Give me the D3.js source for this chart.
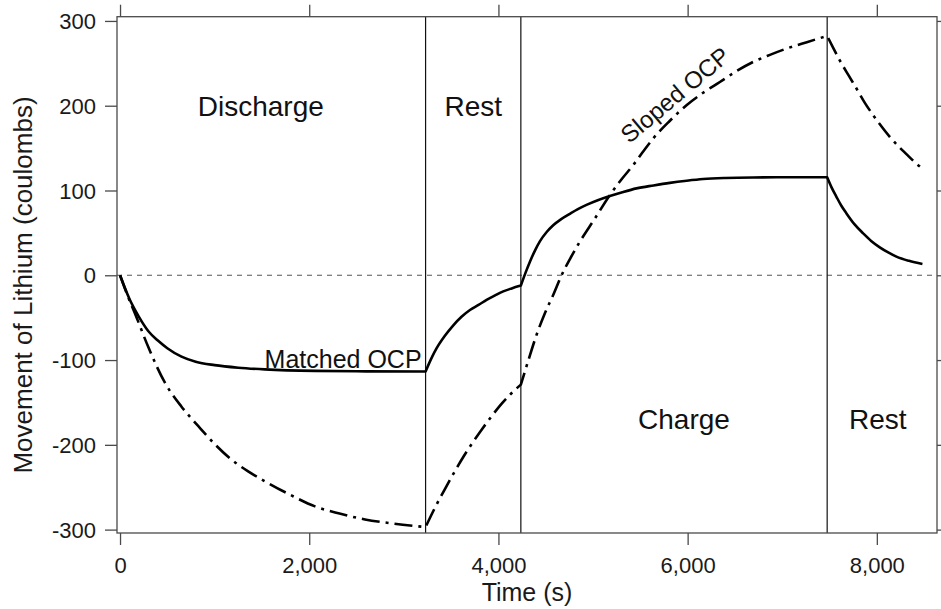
<!DOCTYPE html>
<html>
<head>
<meta charset="utf-8">
<script src="https://cdn.jsdelivr.net/npm/d3@7"></script>
<style>
  html, body { margin: 0; padding: 0; background: #fff; }
  svg { display: block; font-family: "Liberation Sans", Arial, sans-serif; }
</style>
</head>
<body>
<svg id="chart" width="941" height="609"></svg>
<script>
// ---------- data ----------
const xTicks = [0, 2000, 4000, 6000, 8000];
const yTicks = [-300, -200, -100, 0, 100, 200, 300];
const phaseBoundaries = [0, 3230, 4237, 7475, 8482];
const phaseLabels = ["Discharge", "Rest", "Charge", "Rest"];
const phaseLabelValues = [200, 200, -170, -170];

const matchedTime = [0,100,200,300,400,500,650,800,1000,1250,1530,2060,2600,3230,
  3300,3347,3430,3523,3610,3699,3790,3875,3960,4051,4140,4237,
  4290,4333,4390,4438,4510,4579,4660,4755,4840,4931,5050,5178,5310,5460,5640,5812,5990,6164,6400,6692,7100,7475,
  7520,7573,7625,7679,7765,7855,7940,8031,8120,8207,8340,8482];
const matchedValue = [0,-28,-49,-66,-77,-86,-96,-102,-106,-109,-111,-112.8,-113.3,-113.5,
  -96,-86,-72,-59,-49,-41,-35,-29,-24,-19,-15.5,-12.2,
  4,16,30,40,51,59,66,72.5,78,83,88.5,93.5,98,102.5,106,109,111.5,113.5,114.8,115.4,115.6,115.6,
  104,92.6,82,73,60,49.5,40.5,33,27,22,17,13.3];

const slopedTime = [0,80,158,300,476,650,828,1000,1180,1350,1532,1800,2061,2320,2589,2900,3230,
  3330,3430,3530,3630,3730,3830,3930,4030,4130,4237,
  4320,4403,4490,4579,4667,4760,4861,5020,5178,5300,5425,5530,5636,5810,5988,6160,6341,6520,6692,6870,7045,7260,7475,
  7540,7608,7700,7785,7870,7961,8050,8137,8225,8313,8400,8480];
const slopedValue = [0,-24,-45,-85,-127,-155,-178,-199,-217.6,-231,-243,-259,-272.6,-281,-288,-293,-297,
  -274,-253,-233,-214,-197,-181,-166,-152,-140,-129,
  -99,-70.3,-45,-23.2,0,20,39.6,67,94.6,113,130,146,161.4,182,200.6,215,228,241,251.6,260,267.4,275,282.3,
  268,253.6,236,220.3,204,188.9,175.5,163.3,152.5,142.9,133.5,126];

const seriesNames = ["Matched OCP", "Sloped OCP"];

// ---------- scales ----------
const svg = d3.select("#chart");
const x = d3.scaleLinear().domain([-32, 8636]).range([117, 937]);
const y = d3.scaleLinear().domain([-304, 305]).range([533, 16.7]);
const axisColor = "#4a4a4a";

// zero reference line
svg.append("line")
  .attr("x1", x.range()[0]).attr("x2", x.range()[1])
  .attr("y1", y(0)).attr("y2", y(0))
  .attr("stroke", "#555").attr("stroke-width", 1.1)
  .attr("stroke-dasharray", "5,5");

// phase boundary lines
svg.selectAll("line.phase")
  .data(phaseBoundaries.slice(1, -1))
  .enter().append("line")
  .attr("class", "phase")
  .attr("x1", d => x(d)).attr("x2", d => x(d))
  .attr("y1", y.range()[1]).attr("y2", y.range()[0])
  .attr("stroke", "#111").attr("stroke-width", 1.2);

// ---------- axes ----------
const fmt = d3.format(",");
const gB = svg.append("g").attr("transform", `translate(0,${y.range()[0]})`)
  .call(d3.axisBottom(x).tickValues(xTicks).tickSize(12).tickFormat(fmt));
gB.selectAll("text").attr("y", 32).attr("dy", "0.35em");

const gT = svg.append("g").attr("transform", `translate(0,${y.range()[1]})`)
  .call(d3.axisTop(x).tickValues(xTicks).tickSize(12).tickFormat(""));

const gL = svg.append("g").attr("transform", `translate(${x.range()[0]},0)`)
  .call(d3.axisLeft(y).tickValues(yTicks).tickSize(12).tickFormat(d => String(d)));
gL.selectAll("text").attr("x", -21).attr("dy", "0.35em");

const gR = svg.append("g").attr("transform", `translate(${x.range()[1]},0)`)
  .call(d3.axisRight(y).tickValues(yTicks).tickSize(5).tickFormat(""));

[gB, gT, gL, gR].forEach(g => {
  g.select(".domain").remove();
  g.selectAll(".tick line").attr("stroke", axisColor).attr("stroke-width", 1.3);
  g.selectAll("text").attr("fill", "#1a1a1a")
    .style("font-family", "'Liberation Sans', Arial, sans-serif").style("font-size", "22px");
});

// frame
svg.append("rect")
  .attr("x", x.range()[0]).attr("y", y.range()[1])
  .attr("width", x.range()[1] - x.range()[0])
  .attr("height", y.range()[0] - y.range()[1])
  .attr("fill", "none").attr("stroke", axisColor).attr("stroke-width", 1.3);

// axis titles
svg.append("text")
  .attr("x", 527).attr("y", 592).attr("dy", "0.35em")
  .attr("text-anchor", "middle").attr("font-size", 25).attr("fill", "#1a1a1a")
  .text("Time (s)");
svg.append("text")
  .attr("transform", "translate(23,285) rotate(-90)")
  .attr("dy", "0.35em")
  .attr("text-anchor", "middle").attr("font-size", 26).attr("fill", "#1a1a1a")
  .text("Movement of Lithium (coulombs)");

// ---------- series ----------
const line = d3.line().x(d => x(d[0])).y(d => y(d[1])).curve(d3.curveMonotoneX);

function drawSeries(times, values, dash) {
  const pts = times.map((t, i) => [t, values[i]]);
  const segs = [];
  for (let p = 0; p < phaseBoundaries.length - 1; p++) {
    const a = phaseBoundaries[p], b = phaseBoundaries[p + 1];
    segs.push(pts.filter(d => d[0] >= a && d[0] <= b));
  }
  const d = segs.map((s, i) => {
    const str = line(s);
    return i === 0 ? str : str.replace(/^M/, "L");
  }).join("");
  svg.append("path")
    .attr("d", d)
    .attr("fill", "none")
    .attr("stroke", "#000")
    .attr("stroke-width", 2.6)
    .attr("stroke-linejoin", "round")
    .attr("stroke-dasharray", dash);
}
drawSeries(matchedTime, matchedValue, null);
drawSeries(slopedTime, slopedValue, "18,6,3,6");

// ---------- labels ----------
const labelShift = [-12, 0, 10, 3];
phaseLabels.forEach((lab, i) => {
  const mid = (phaseBoundaries[i] + phaseBoundaries[i + 1]) / 2;
  svg.append("text")
    .attr("x", x(mid) + labelShift[i])
    .attr("y", y(phaseLabelValues[i]))
    .attr("dy", "0.35em")
    .attr("text-anchor", "middle")
    .attr("font-size", 28)
    .attr("fill", "#111")
    .text(lab);
});

svg.append("text")
  .attr("x", x(phaseBoundaries[1]) - 4)
  .attr("y", 368)
  .attr("text-anchor", "end")
  .attr("font-size", 25)
  .attr("fill", "#111")
  .text(seriesNames[0]);

svg.append("text")
  .attr("transform", "translate(675,95) rotate(-40)")
  .attr("dy", "0.35em")
  .attr("text-anchor", "middle")
  .attr("font-size", 24)
  .attr("fill", "#111")
  .text(seriesNames[1]);
</script>
</body>
</html>
